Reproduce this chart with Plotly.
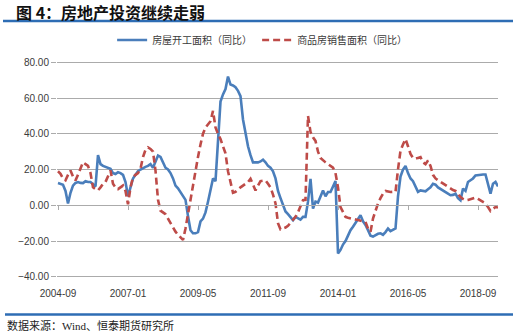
import pandas as pd
import plotly.graph_objects as go

# Monthly categories, 2004-09 .. 2019-05
months = [d.strftime("%Y-%m") for d in pd.date_range("2004-09-01", periods=177, freq="MS")]
tick_labels = ["2004-09", "2007-01", "2009-05", "2011-09", "2014-01", "2016-05", "2018-09"]

# 房屋新开工面积 累计同比 (%)
starts_yoy = [
    12.4, 12.0, 11.5, 8.0, 1.0, 7.0, 11.0, 12.5, 13.0, 12.5,
    12.4, 13.5, 13.0, 13.0, 12.0, 10.5, 28.0, 23.0, 22.0, 21.5,
    21.0, 20.4, 18.0, 17.5, 18.5, 18.0, 17.0, 13.0, 5.0, 10.0,
    15.0, 17.0, 19.0, 20.0, 21.0, 21.5, 22.0, 23.0, 21.0, 24.0,
    27.8, 27.0, 24.0, 21.0, 20.0, 18.0, 15.0, 11.0, 9.5, 7.5,
    5.5, 3.0, -6.0, -14.0, -15.7, -15.7, -15.0, -9.0, -7.5, -4.0,
    2.0, 9.0, 15.0, 13.5, 35.0, 58.0, 62.0, 65.0, 72.0, 67.5,
    67.0, 66.0, 64.0, 61.0, 48.0, 40.0, 33.0, 28.0, 24.0, 24.0,
    24.0, 24.5, 25.5, 24.0, 22.0, 21.0, 19.0, 15.0, 8.0, 4.0,
    0.0, -3.5, -5.0, -6.5, -8.3, -6.5, -7.5, -8.0, -6.5, -6.5,
    2.0, 14.8, -1.9, 2.0, 1.5, 5.0, 8.3, 5.0, 7.4, 7.4,
    11.0, 13.5, -27.0, -25.0, -22.0, -20.0, -17.0, -14.0, -12.0, -10.0,
    -7.5, -5.6, -9.0, -11.0, -14.0, -17.0, -17.5, -16.7, -16.0, -15.7,
    -16.5, -15.0, -13.0, -14.5, -13.5, -13.0, 5.0, 16.0, 20.0, 22.0,
    18.0, 15.0, 13.5, 10.0, 7.5, 8.3, 8.0, 7.8, 9.0, 10.0,
    12.0, 11.5, 10.0, 9.0, 8.0, 7.5, 6.5, 5.6, 5.8, 6.5,
    4.0, 2.8, 9.3, 8.0, 13.0, 14.0, 15.0, 16.7, 17.0, 17.2,
    17.2, 17.2, 12.0, 6.5, 12.0, 13.0, 10.5,
]

# 商品房销售面积 累计同比 (%)
sales_yoy = [
    19.0, 17.6, 15.0, 14.0, 17.0, 19.4, 16.0, 13.9, 17.0, 21.0,
    24.0, 23.0, 22.0, 18.0, 10.0, 9.0, 8.3, 10.0, 12.0, 13.0,
    16.0, 19.4, 12.0, 10.0, 9.0, 10.0, 11.0, 8.0, 0.5, 10.0,
    15.7, 17.0, 18.0, 20.4, 27.0, 31.0, 32.4, 31.5, 30.0, 19.4,
    3.0, -3.0, -4.0, -5.0, -7.5, -10.0, -12.5, -14.8, -16.5, -18.0,
    -19.4, -13.0, -5.0, 5.0, 13.0, 19.4, 27.0, 34.0, 40.0, 43.5,
    45.0, 47.0, 52.8, 43.5, 40.0, 37.0, 33.0, 29.0, 19.0, 13.0,
    7.0, 7.5, 9.0, 10.0, 11.0, 12.0, 13.0, 14.8, 11.0, 8.3,
    11.0, 13.5, 13.7, 13.9, 12.0, 10.0, 6.0, 1.0, -10.0, -13.5,
    -13.0, -12.5, -11.5, -10.0, -8.0, -6.5, -4.0, -1.0, 2.8, 3.0,
    50.0, 41.0, 38.0, 36.0, 30.0, 26.5, 25.0, 24.0, 23.0, 22.0,
    21.0, 18.0, 10.0, -1.0, -4.0, -6.5, -7.0, -7.2, -7.4, -8.0,
    -8.3, -8.6, -9.0, -9.3, -13.0, -14.8, -7.4, -3.0, 1.0, 4.0,
    6.5, 8.0, 7.5, 7.4, 7.5, 7.4, 20.0, 30.5, 34.0, 37.0,
    33.0, 28.7, 26.5, 26.0, 26.5, 26.9, 24.0, 23.0, 25.0, 22.0,
    17.0, 15.0, 14.0, 13.0, 12.0, 11.0, 10.0, 9.3, 8.5, 8.0,
    6.0, 4.6, 3.5, 2.8, 3.0, 3.3, 4.0, 4.3, 3.5, 2.8,
    2.0, 1.0, -1.0, -3.2, -2.0, -1.0, -1.3,
]

BLUE = "#4A7EBB"
RED = "#BE4B48"
GRID = "#ABABAB"
TEXT = "#3A3A3A"
NUM_FONT = "Liberation Sans, Arial, sans-serif"
CJK_FONT = "Noto Sans CJK SC, sans-serif"
SERIF_FONT = "Liberation Serif, Noto Sans CJK SC, serif"

fig = go.Figure()
fig.add_trace(go.Scatter(
    x=months, y=starts_yoy, mode="lines", name="房屋开工面积（同比）",
    line=dict(color=BLUE, width=2.6), xaxis="x", yaxis="y",
))
fig.add_trace(go.Scatter(
    x=months, y=sales_yoy, mode="lines", name="商品房销售面积（同比）",
    line=dict(color=RED, width=2.6, dash="7px,4px"), xaxis="x2", yaxis="y",
))

x_range = [-0.4, 176.0]
# small padding so the 80 and -40 gridlines are not clipped at the plot edges
y_range = [-40.7, 80.7]
zero_pos = (0 - y_range[0]) / (y_range[1] - y_range[0])

# plot area height 217 px -> paper units for the decorations outside it
PH = 217.0
BOTTOM = 278.0

def py(px):
    return (BOTTOM - px) / PH

def px_x(px):
    return (px - 57) / 441.0

fig.update_layout(
    width=516, height=334,
    margin=dict(l=57, r=18, t=61, b=56),
    paper_bgcolor="white", plot_bgcolor="white",
    showlegend=True,
    legend=dict(
        orientation="h", x=0.125, xanchor="left", y=py(40), yanchor="middle",
        font=dict(family=CJK_FONT, size=10, color=TEXT),
        itemwidth=30, bgcolor="rgba(0,0,0,0)",
    ),
    xaxis=dict(
        type="category", categoryorder="array", categoryarray=months,
        range=x_range, showgrid=False, zeroline=False, showline=False,
        tickmode="array", tickvals=tick_labels, ticktext=tick_labels,
        ticks="outside", ticklen=6, tickcolor="rgba(0,0,0,0)",
        tickfont=dict(family=NUM_FONT, size=10, color=TEXT),
    ),
    # category axis drawn along the zero line, carrying the tick marks
    xaxis2=dict(
        type="category", categoryorder="array", categoryarray=months,
        overlaying="x", matches="x", anchor="free", position=zero_pos, side="bottom",
        range=x_range, showgrid=False, zeroline=False,
        showline=True, linecolor=GRID, linewidth=1,
        tickmode="array", tickvals=tick_labels,
        ticks="outside", ticklen=4, tickcolor=GRID, showticklabels=False,
    ),
    yaxis=dict(
        range=y_range, dtick=20, tick0=0, tickformat=".2f",
        showgrid=True, gridcolor=GRID, gridwidth=1, zeroline=False,
        showline=False, ticks="outside", ticklen=5, tickcolor=GRID,
        tickfont=dict(family=NUM_FONT, size=10, color=TEXT),
    ),
    shapes=[
        dict(type="line", xref="paper", yref="paper", x0=px_x(3), x1=px_x(513),
             y0=py(21), y1=py(21), line=dict(color="#2E6DB4", width=2.5)),
        dict(type="line", xref="paper", yref="paper", x0=px_x(5), x1=px_x(513),
             y0=py(314.5), y1=py(314.5), line=dict(color="#2E6DB4", width=2.5)),
    ],
    annotations=[
        dict(text="<b>图 4：房地产投资继续走弱</b>", xref="paper", yref="paper",
             x=px_x(14), y=py(12), xanchor="left", yanchor="middle", showarrow=False,
             font=dict(family=CJK_FONT, size=16, color="#111111")),
        dict(text="数据来源：Wind、恒泰期货研究所", xref="paper", yref="paper",
             x=px_x(5), y=py(325), xanchor="left", yanchor="middle", showarrow=False,
             font=dict(family=SERIF_FONT, size=11, color="#222222")),
    ],
)

fig.write_html("out.html")
